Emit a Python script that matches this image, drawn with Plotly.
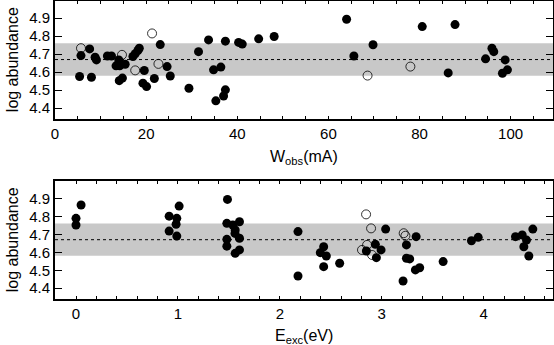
import plotly.graph_objects as go

# top panel: abundance vs equivalent width
w_filled = [5.7, 5.4, 7.6, 8.0, 8.8, 9.1, 11.5, 12.4, 14.0, 14.2, 13.4, 15.4, 14.1, 14.8,
            17.1, 17.6, 18.2, 18.5, 19.6, 19.3, 20.1, 21.8, 23.1, 24.6, 25.3, 29.4, 31.5,
            33.7, 34.8, 36.4, 35.3, 37.0, 37.4, 37.4, 40.3, 41.1, 44.7, 48.1, 64.0, 65.6,
            69.8, 80.6, 86.3, 87.8, 94.5, 95.9, 96.3, 98.8, 98.2, 99.3]
ab_w_filled = [4.692, 4.576, 4.729, 4.572, 4.683, 4.668, 4.69, 4.69, 4.668, 4.635, 4.635,
               4.644, 4.553, 4.567, 4.687, 4.702, 4.72, 4.733, 4.609, 4.539, 4.52, 4.565,
               4.753, 4.631, 4.579, 4.511, 4.714, 4.779, 4.613, 4.628, 4.441, 4.468, 4.502,
               4.772, 4.765, 4.756, 4.785, 4.798, 4.894, 4.69, 4.752, 4.853, 4.596, 4.864,
               4.674, 4.733, 4.714, 4.668, 4.594, 4.613]
w_open = [5.7, 14.7, 17.6, 21.3, 22.7, 68.6, 78.0]
ab_w_open = [4.733, 4.696, 4.61, 4.815, 4.646, 4.581, 4.631]

# bottom panel: abundance vs excitation potential
e_filled = [0.0, 0.0, 0.05,
            1.012, 0.914, 0.989, 0.982, 0.914, 0.989,
            1.486, 1.48, 1.539, 1.604, 1.562, 1.56, 1.48, 1.604, 1.48, 1.562, 1.604,
            2.178, 2.178, 2.43, 2.397, 2.456, 2.43, 2.587,
            2.849, 2.937, 2.993, 2.947, 3.038,
            3.337, 3.242, 3.242, 3.274, 3.209, 3.33, 3.372,
            3.602, 3.88, 3.946,
            4.312, 4.378, 4.42, 4.394, 4.443, 4.482]
ab_e_filled = [4.789, 4.752, 4.863,
               4.857, 4.801, 4.789, 4.756, 4.718, 4.69,
               4.894, 4.761, 4.752, 4.77, 4.724, 4.705, 4.672, 4.678, 4.634, 4.594, 4.613,
               4.715, 4.468, 4.631, 4.598, 4.579, 4.52, 4.539,
               4.607, 4.644, 4.613, 4.57, 4.729,
               4.687, 4.641, 4.567, 4.563, 4.44, 4.502, 4.514,
               4.548, 4.664, 4.683,
               4.687, 4.696, 4.668, 4.631, 4.579, 4.729]
e_open = [2.846, 2.895, 2.806, 2.856, 2.905, 3.215, 3.232]
ab_e_open = [4.811, 4.733, 4.613, 4.641, 4.585, 4.706, 4.692]

mean_ab = 4.67
sigma_ab = 0.09

fig = go.Figure()

for xs, ys, xa, ya in [(w_filled, ab_w_filled, 'x', 'y'), (e_filled, ab_e_filled, 'x2', 'y2')]:
    fig.add_trace(go.Scatter(x=xs, y=ys, xaxis=xa, yaxis=ya, mode='markers',
                             marker=dict(size=9, color='black', line=dict(width=0)),
                             showlegend=False))
for xs, ys, xa, ya in [(w_open, ab_w_open, 'x', 'y'), (e_open, ab_e_open, 'x2', 'y2')]:
    fig.add_trace(go.Scatter(x=xs, y=ys, xaxis=xa, yaxis=ya, mode='markers',
                             marker=dict(size=9, symbol='circle-open', color='black',
                                         line=dict(width=0.8, color='black')),
                             showlegend=False))

# scatter band and mean line
for xr, yr in [('x domain', 'y'), ('x2 domain', 'y2')]:
    fig.add_shape(type='rect', xref=xr, yref=yr, x0=0, x1=1,
                  y0=mean_ab - sigma_ab, y1=mean_ab + sigma_ab,
                  fillcolor='rgb(200,200,200)', line=dict(width=0), layer='below')
    fig.add_shape(type='line', xref=xr, yref=yr, x0=0, x1=1, y0=mean_ab, y1=mean_ab,
                  line=dict(color='black', width=1, dash='dot'))

font = dict(family='Liberation Sans, Arial, sans-serif', size=15, color='black')

yax = dict(range=[4.34, 4.995], tickvals=[4.4, 4.5, 4.6, 4.7, 4.8, 4.9],
           ticks='inside', ticklen=7, tickwidth=1, tickcolor='black',
           showline=True, linewidth=2, linecolor='black', mirror='ticks',
           showgrid=False, zeroline=False, tickfont=font, automargin=False)
xax = dict(ticks='inside', ticklen=3, tickwidth=1, tickcolor='black',
           showline=True, linewidth=2, linecolor='black', mirror='ticks',
           showgrid=False, zeroline=False, tickfont=font, automargin=False)

fig.update_layout(
    width=554, height=345,
    margin=dict(l=55, r=1, t=1, b=46),
    plot_bgcolor='white', paper_bgcolor='white',
    font=font,
    xaxis=dict(xax, range=[0, 109.3], dtick=20, anchor='y',
               minor=dict(dtick=5, ticks='inside', ticklen=3, tickcolor='black')),
    yaxis=dict(yax, domain=[0.604, 1], anchor='x'),
    xaxis2=dict(xax, range=[-0.206, 4.68], dtick=1, anchor='y2',
                minor=dict(dtick=0.2, ticks='inside', ticklen=3, tickcolor='black')),
    yaxis2=dict(yax, domain=[0, 0.395], anchor='x2'),
)

# axis titles placed as annotations (paper coordinates)
title_font = dict(family='Liberation Sans, Arial, sans-serif', size=16, color='black')
fig.add_annotation(text='W<sub>obs</sub>(mA)', xref='x domain', yref='paper', x=0.5, y=0.4765,
                   showarrow=False, font=title_font, yanchor='middle')
fig.add_annotation(text='E<sub>exc</sub>(eV)', xref='x2 domain', yref='paper', x=0.5, y=-0.1275,
                   showarrow=False, font=title_font, yanchor='middle')
fig.add_annotation(text='log abundance', xref='paper', yref='y domain', x=-0.086, y=0.5,
                   showarrow=False, font=title_font, textangle=-90, xanchor='center')
fig.add_annotation(text='log abundance', xref='paper', yref='y2 domain', x=-0.086, y=0.5,
                   showarrow=False, font=title_font, textangle=-90, xanchor='center')

# drop the default page margin so the figure sits at the window's corner
fig.write_html('out.html', config={'displayModeBar': False},
               post_script="document.body.style.margin='0';")
